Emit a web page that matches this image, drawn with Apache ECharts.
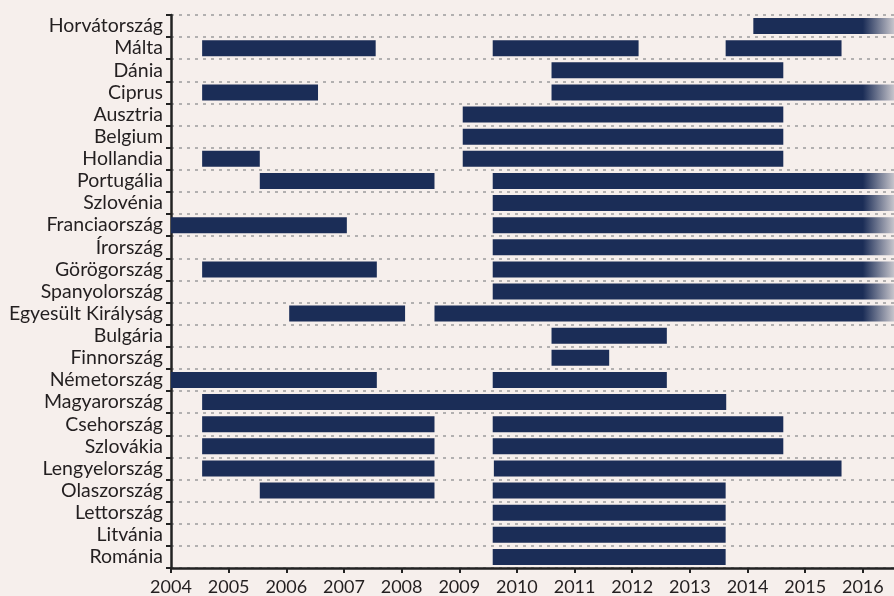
<!DOCTYPE html>
<html>
<head>
<meta charset="utf-8">
<script src="https://cdn.jsdelivr.net/npm/echarts@6/dist/echarts.min.js"></script>
<style>
  html, body { margin: 0; padding: 0; background: #f6efec; }
  #chart { width: 894px; height: 596px; }
</style>
</head>
<body>
<div id="chart"></div>
<script>
// countries, top to bottom
var countries = [
  'Horvátország', 'Málta', 'Dánia', 'Ciprus', 'Ausztria', 'Belgium', 'Hollandia',
  'Portugália', 'Szlovénia', 'Franciaország', 'Írország', 'Görögország',
  'Spanyolország', 'Egyesült Királyság', 'Bulgária', 'Finnország', 'Németország',
  'Magyarország', 'Csehország', 'Szlovákia', 'Lengyelország', 'Olaszország',
  'Lettország', 'Litvánia', 'Románia'
];

var years = [2004, 2005, 2006, 2007, 2008, 2009, 2010, 2011, 2012, 2013, 2014, 2015, 2016];

// null end = still running (bar fades out at the right edge)
var periods = [
  ['Horvátország', 2014.1, null],
  ['Málta', 2004.54, 2007.55], ['Málta', 2009.58, 2012.11], ['Málta', 2013.62, 2015.63],
  ['Dánia', 2010.6, 2014.62],
  ['Ciprus', 2004.54, 2006.55], ['Ciprus', 2010.6, null],
  ['Ausztria', 2009.06, 2014.62],
  ['Belgium', 2009.06, 2014.62],
  ['Hollandia', 2004.54, 2005.54], ['Hollandia', 2009.06, 2014.62],
  ['Portugália', 2005.54, 2008.57], ['Portugália', 2009.58, null],
  ['Szlovénia', 2009.58, null],
  ['Franciaország', 2004, 2007.05], ['Franciaország', 2009.58, null],
  ['Írország', 2009.58, null],
  ['Görögország', 2004.54, 2007.57], ['Görögország', 2009.58, null],
  ['Spanyolország', 2009.58, null],
  ['Egyesült Királyság', 2006.05, 2008.06], ['Egyesült Királyság', 2008.57, null],
  ['Bulgária', 2010.6, 2012.6],
  ['Finnország', 2010.6, 2011.6],
  ['Németország', 2004, 2007.57], ['Németország', 2009.58, 2012.6],
  ['Magyarország', 2004.54, 2013.63],
  ['Csehország', 2004.54, 2008.57], ['Csehország', 2009.58, 2014.62],
  ['Szlovákia', 2004.54, 2008.57], ['Szlovákia', 2009.58, 2014.62],
  ['Lengyelország', 2004.54, 2008.57], ['Lengyelország', 2009.6, 2015.63],
  ['Olaszország', 2005.54, 2008.57], ['Olaszország', 2009.58, 2013.62],
  ['Lettország', 2009.58, 2013.62],
  ['Litvánia', 2009.58, 2013.62],
  ['Románia', 2009.58, 2013.62]
];

var X_MIN = 2004;
var X_MAX = 2016.54;
var FADE_FROM = 2016;
var BAR = '#1b2d57';
var TEXT = '#231f20';

var seriesData = periods.map(function (p) {
  var open = p[2] === null;
  return [countries.indexOf(p[0]), p[1], open ? X_MAX : p[2], open ? 1 : 0];
});

function renderItem(params, api) {
  var cat = api.value(0);
  var a = api.coord([api.value(1), cat]);
  var b = api.coord([api.value(2), cat]);
  var h = 16;
  var w = b[0] - a[0];
  var fill = BAR;
  if (api.value(3)) {
    var f = api.coord([FADE_FROM, cat])[0];
    var off = Math.max(0, Math.min(1, (f - a[0]) / w));
    fill = new echarts.graphic.LinearGradient(0, 0, 1, 0, [
      { offset: 0, color: BAR },
      { offset: off, color: BAR },
      { offset: 1, color: 'rgba(27,45,87,0.22)' }
    ]);
  }
  return {
    type: 'rect',
    shape: { x: a[0], y: a[1] - h / 2, width: w, height: h },
    style: { fill: fill }
  };
}

var myChart = echarts.init(document.getElementById('chart'));
var option = {
  backgroundColor: '#f6efec',
  animation: false,
  grid: { left: 171, right: 0, top: 15, bottom: 28 },
  xAxis: {
    type: 'value',
    min: X_MIN,
    max: X_MAX,
    interval: 1,
    splitLine: { show: false },
    axisLine: { show: true, lineStyle: { color: '#222', width: 2.5 } },
    axisTick: { show: true, length: 5, lineStyle: { color: '#222', width: 2 } },
    axisLabel: {
      showMaxLabel: false,
      margin: 10,
      color: TEXT,
      fontFamily: 'Lato',
      fontSize: 18,
      formatter: function (v) { return years.indexOf(v) >= 0 ? String(v) : ''; }
    }
  },
  yAxis: {
    type: 'category',
    data: countries,
    inverse: true,
    axisLine: { show: true, lineStyle: { color: '#222', width: 2.5 } },
    axisTick: { show: true, length: 5, lineStyle: { color: '#222', width: 2 } },
    axisLabel: {
      interval: 0,
      hideOverlap: false,
      margin: 8,
      color: TEXT,
      fontFamily: 'Lato',
      fontSize: 19.5
    },
    splitLine: {
      show: true,
      lineStyle: { color: '#9c9c9c', width: 1.5, type: [3, 5] }
    }
  },
  series: [{
    type: 'custom',
    renderItem: renderItem,
    encode: { x: [1, 2], y: 0 },
    data: seriesData
  }]
};

option && myChart.setOption(option);
</script>
</body>
</html>
